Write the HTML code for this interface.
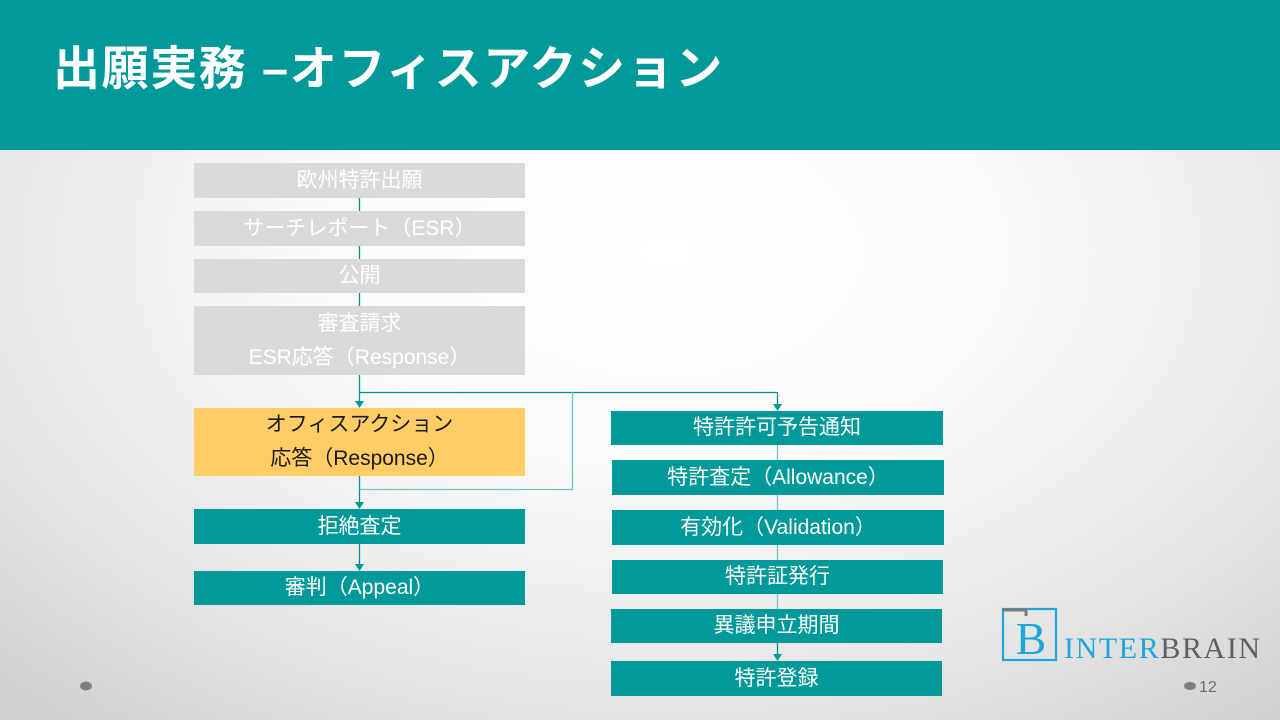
<!DOCTYPE html>
<html><head><meta charset="utf-8">
<style>
html,body{margin:0;padding:0;}
body{width:1280px;height:720px;overflow:hidden;position:relative;font-family:"Liberation Sans","Noto Sans CJK JP",sans-serif;
background:radial-gradient(ellipse 75% 85% at 52% 35%, #ffffff 0%, #fbfbfb 35%, #e4e4e4 75%, #d0d0d0 100%);}
.hdr{position:absolute;left:0;top:0;width:1280px;height:150px;background:#009999;}
.title{position:absolute;left:53px;top:39px;font-size:47px;font-weight:bold;color:#fff;white-space:nowrap;letter-spacing:1.6px;line-height:60px;}
.b{position:absolute;display:flex;flex-direction:column;justify-content:center;align-items:center;font-size:21px;line-height:34px;color:#fff;white-space:nowrap;}
.g{background:#d9d9d9;}
.t{background:#009999;}
.y{background:#ffcc66;color:#1a1a1a;}
svg{position:absolute;left:0;top:0;}
</style></head><body>
<div class="hdr"></div>
<div class="title">出願実務 –オフィスアクション</div>

<svg width="1280" height="720">
  <g stroke="#008f8f" stroke-width="1.3" fill="none">
    <line x1="359.5" y1="198" x2="359.5" y2="211"/>
    <line x1="359.5" y1="246" x2="359.5" y2="259"/>
    <line x1="359.5" y1="293" x2="359.5" y2="306"/>
    <line x1="359.5" y1="375" x2="359.5" y2="402"/>
    <line x1="359.5" y1="392.5" x2="777.5" y2="392.5"/>
    <line x1="777.5" y1="392" x2="777.5" y2="405"/>
    <line x1="359.5" y1="476" x2="359.5" y2="503"/>
    <line x1="359.5" y1="544" x2="359.5" y2="565"/>
    <line x1="777.5" y1="643" x2="777.5" y2="655"/>
  </g>
  <g stroke="#6cc4c4" stroke-width="1.3" fill="none">
    <polyline points="572.5,392 572.5,489.5 359.5,489.5"/>
    <line x1="777.5" y1="445" x2="777.5" y2="460"/>
    <line x1="777.5" y1="495" x2="777.5" y2="510"/>
    <line x1="777.5" y1="545" x2="777.5" y2="560"/>
    <line x1="777.5" y1="594" x2="777.5" y2="609"/>
  </g>
  <g fill="#009999">
    <polygon points="355,401 364,401 359.5,408"/>
    <polygon points="773,404 782,404 777.5,411"/>
    <polygon points="355,502 364,502 359.5,509"/>
    <polygon points="355,564 364,564 359.5,571"/>
    <polygon points="773,654 782,654 777.5,661"/>
  </g>
  <!-- bottom dots -->
  <ellipse cx="86" cy="686" rx="6" ry="4.5" fill="#808080"/>
  <ellipse cx="1190" cy="686" rx="6" ry="4" fill="#808080"/>
  <text x="1199" y="692" font-family="Liberation Sans, sans-serif" font-size="16" fill="#6b6b6b">12</text>
  <!-- logo -->
  <g>
    <rect x="1003" y="609" width="53" height="51" fill="none" stroke="#1aa7da" stroke-width="2.2"/>
    <polyline points="1002,610 1026,610 1026,616" fill="none" stroke="#7a7a7a" stroke-width="3"/>
    <text x="1031" y="654" text-anchor="middle" font-family="Liberation Serif, serif" font-size="46" fill="#1aa7da">B</text>
    <text x="1064" y="658" font-family="Liberation Serif, serif" font-size="30" letter-spacing="1.6"><tspan fill="#1aa7da">INTER</tspan><tspan fill="#5f5f5f">BRAIN</tspan></text>
  </g>
</svg>

<div class="b g" style="left:194px;top:163px;width:331px;height:35px;">欧州特許出願</div>
<div class="b g" style="left:194px;top:211px;width:331px;height:35px;">サーチレポート（ESR）</div>
<div class="b g" style="left:194px;top:259px;width:331px;height:34px;">公開</div>
<div class="b g" style="left:194px;top:306px;width:331px;height:69px;"><div>審査請求</div><div>ESR応答（Response）</div></div>
<div class="b y" style="left:194px;top:408px;width:331px;height:68px;"><div>オフィスアクション</div><div>応答（Response）</div></div>
<div class="b t" style="left:194px;top:509px;width:331px;height:35px;">拒絶査定</div>
<div class="b t" style="left:194px;top:571px;width:331px;height:34px;">審判（Appeal）</div>

<div class="b t" style="left:611px;top:411px;width:332px;height:34px;">特許許可予告通知</div>
<div class="b t" style="left:612px;top:460px;width:332px;height:35px;">特許査定（Allowance）</div>
<div class="b t" style="left:612px;top:510px;width:332px;height:35px;">有効化（Validation）</div>
<div class="b t" style="left:612px;top:560px;width:331px;height:34px;">特許証発行</div>
<div class="b t" style="left:611px;top:609px;width:331px;height:34px;">異議申立期間</div>
<div class="b t" style="left:611px;top:661px;width:331px;height:35px;">特許登録</div>
</body></html>
